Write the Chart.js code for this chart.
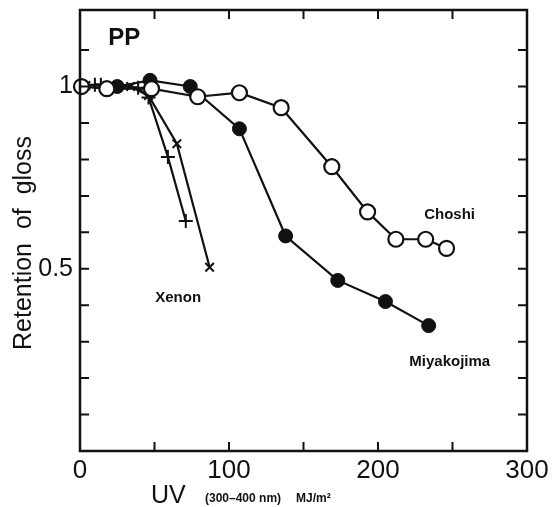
<!DOCTYPE html>
<html>
<head>
<meta charset="utf-8">
<script src="https://cdn.jsdelivr.net/npm/chart.js"></script>
<style>
  html, body { margin: 0; padding: 0; background: #fff; }
  #wrap { width: 552px; height: 507px; }
</style>
</head>
<body>
<div id="wrap"><canvas id="gloss"></canvas></div>
<script>
// Gloss retention of PP vs. UV dose (300-400 nm)
const choshiX = [1, 18, 48, 79, 107, 135, 169, 193, 212, 232, 246];
const choshiY = [1.0, 0.994, 0.994, 0.972, 0.983, 0.942, 0.78, 0.656, 0.581, 0.581, 0.556];

const miyakoX = [25, 47, 74, 107, 138, 173, 205, 234];
const miyakoY = [1.0, 1.017, 1.0, 0.884, 0.59, 0.468, 0.41, 0.344];

const xenonCrossX = [4, 34, 46, 65, 87];
const xenonCrossY = [1.003, 1.0, 0.975, 0.843, 0.504];

const xenonPlusX = [10, 14, 39, 46, 59, 71];
const xenonPlusY = [1.005, 1.005, 0.997, 0.97, 0.807, 0.631];

const xTickLabels = ['0', '100', '200', '300'];
const yTickLabels = ['0.5', '1'];

const FONT = '"Liberation Sans", Arial, Helvetica, sans-serif';
const INK = '#111';

const pts = (xs, ys) => xs.map((x, i) => ({ x: x, y: ys[i] }));

// frame on all four sides with inward tick marks
const framePlugin = {
  id: 'frame',
  afterDraw(chart) {
    const { ctx, chartArea: a, scales } = chart;
    const len = 9;
    ctx.save();
    ctx.strokeStyle = INK;
    ctx.lineWidth = 2.5;
    ctx.strokeRect(a.left, a.top, a.right - a.left, a.bottom - a.top);
    ctx.lineWidth = 2;
    ctx.beginPath();
    scales.x.ticks.forEach(t => {
      const px = scales.x.getPixelForValue(t.value);
      ctx.moveTo(px, a.bottom); ctx.lineTo(px, a.bottom - len);
      ctx.moveTo(px, a.top); ctx.lineTo(px, a.top + len);
    });
    scales.y.ticks.forEach(t => {
      if (t.value > 1.15) return;
      const py = scales.y.getPixelForValue(t.value);
      ctx.moveTo(a.left, py); ctx.lineTo(a.left + len, py);
      ctx.moveTo(a.right, py); ctx.lineTo(a.right - len, py);
    });
    ctx.stroke();
    ctx.restore();
  }
};

// axis titles and in-plot labels
const textPlugin = {
  id: 'texts',
  afterDraw(chart, args, opts) {
    const { ctx, scales } = chart;
    ctx.save();
    ctx.fillStyle = INK;
    ctx.textBaseline = 'middle';
    ctx.textAlign = 'left';
    opts.labels.forEach(l => {
      ctx.font = l.font;
      ctx.fillText(l.text, scales.x.getPixelForValue(l.x), scales.y.getPixelForValue(l.y));
    });

    // x title: "UV" large, range and unit small
    ctx.textBaseline = 'alphabetic';
    ctx.font = '25px ' + FONT;
    ctx.fillText('UV', 151, 503);
    ctx.font = 'bold 12px ' + FONT;
    ctx.fillText('(300\u2013400 nm)', 205, 502);
    ctx.fillText('MJ/m\u00B2', 296, 502);

    // y title
    ctx.translate(31, 243);
    ctx.rotate(-Math.PI / 2);
    ctx.textAlign = 'center';
    ctx.font = '25px ' + FONT;
    ctx.fillText('Retention  of  gloss', 0, 0);
    ctx.restore();
  }
};

const lineStyle = { borderColor: INK, borderWidth: 2.2, tension: 0, showLine: true };

new Chart(document.getElementById('gloss'), {
  type: 'scatter',
  data: {
    datasets: [
      Object.assign({
        label: 'Choshi', data: pts(choshiX, choshiY), order: 0, clip: false,
        pointStyle: 'circle', pointRadius: 7.5, pointBackgroundColor: '#fff',
        pointBorderColor: INK, pointBorderWidth: 2.2
      }, lineStyle),
      Object.assign({
        label: 'Miyakojima', data: pts(miyakoX, miyakoY), order: 1,
        pointStyle: 'circle', pointRadius: 7, pointBackgroundColor: INK,
        pointBorderColor: INK, pointBorderWidth: 1
      }, lineStyle),
      Object.assign({
        label: 'Xenon x', data: pts(xenonCrossX, xenonCrossY), order: 2,
        pointStyle: 'crossRot', pointRadius: 6, pointBorderColor: INK, pointBorderWidth: 2
      }, lineStyle),
      Object.assign({
        label: 'Xenon +', data: pts(xenonPlusX, xenonPlusY), order: 3,
        pointStyle: 'cross', pointRadius: 7, pointBorderColor: INK, pointBorderWidth: 2
      }, lineStyle)
    ]
  },
  options: {
    responsive: true,
    maintainAspectRatio: false,
    animation: false,
    layout: { padding: { top: 10, right: 25, left: 0, bottom: 0 } },
    plugins: {
      legend: { display: false },
      tooltip: { enabled: false },
      texts: {
        labels: [
          { text: 'PP', x: 19, y: 1.132, font: 'bold 24px ' + FONT },
          { text: 'Choshi', x: 231, y: 0.647, font: 'bold 15px ' + FONT },
          { text: 'Xenon', x: 50.5, y: 0.419, font: 'bold 15px ' + FONT },
          { text: 'Miyakojima', x: 221, y: 0.245, font: 'bold 15px ' + FONT }
        ]
      }
    },
    scales: {
      x: {
        type: 'linear', min: 0, max: 300,
        afterFit(s) { s.height = 56; s.paddingRight = 0; },
        grid: { display: false, drawTicks: false },
        border: { display: false },
        ticks: {
          stepSize: 50, autoSkip: false, maxRotation: 0, padding: 4,
          color: INK, font: { family: FONT, size: 26 },
          callback: v => (v % 100 === 0 ? xTickLabels[v / 100] : '')
        }
      },
      y: {
        type: 'linear', min: 0, max: 1.21,
        afterFit(s) { s.width = 80; s.paddingTop = 0; s.paddingBottom = 0; },
        grid: { display: false, drawTicks: false },
        border: { display: false },
        ticks: {
          stepSize: 0.1, autoSkip: false, padding: 7,
          color: INK, font: { family: FONT, size: 25 },
          callback: v => {
            const r = Math.round(v * 10) / 10;
            if (r === 0.5) return yTickLabels[0];
            if (r === 1) return yTickLabels[1];
            return '';
          }
        }
      }
    }
  },
  plugins: [framePlugin, textPlugin]
});
</script>
</body>
</html>
